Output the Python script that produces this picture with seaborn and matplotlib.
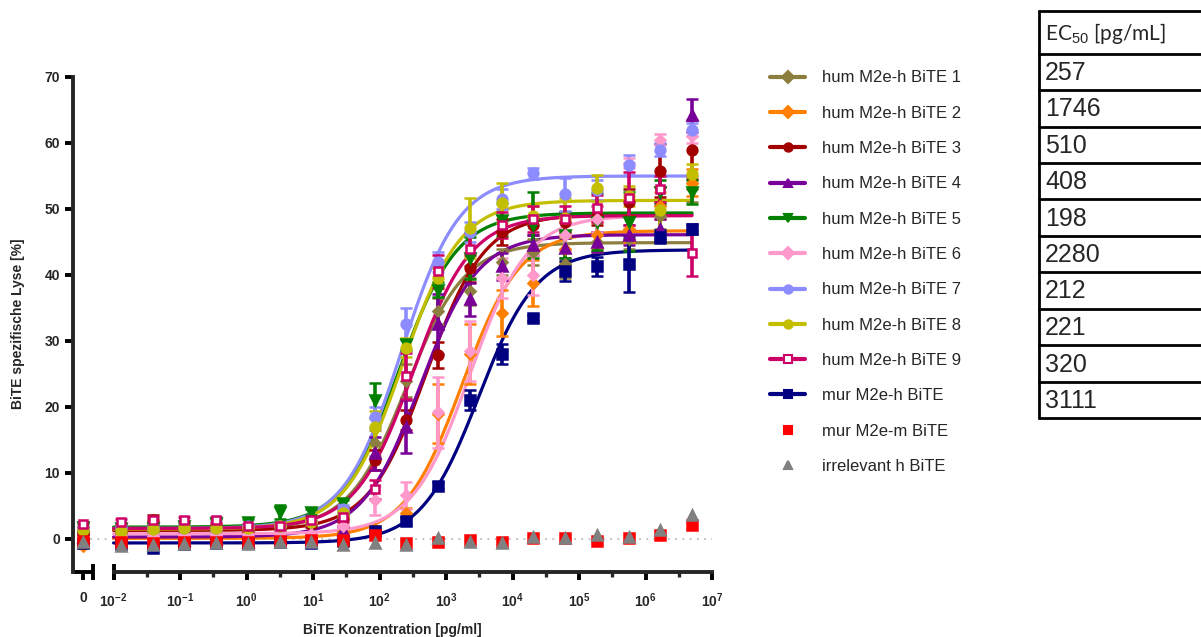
import numpy as np
import pandas as pd
import matplotlib
matplotlib.use("Agg")
import matplotlib.pyplot as plt
from matplotlib.lines import Line2D
from matplotlib.ticker import FixedLocator
import seaborn as sns

# =========================
# DATA
# =========================

labels = ["hum M2e-h BiTE 1", "hum M2e-h BiTE 2", "hum M2e-h BiTE 3",
          "hum M2e-h BiTE 4", "hum M2e-h BiTE 5", "hum M2e-h BiTE 6",
          "hum M2e-h BiTE 7", "hum M2e-h BiTE 8", "hum M2e-h BiTE 9",
          "mur M2e-h BiTE", "mur M2e-m BiTE", "irrelevant h BiTE"]

colors = ["#8C7E3E", "#FF7F00", "#A30000", "#780099", "#008000", "#FF99CC",
          "#8C8CFF", "#C4BE00", "#CC0066", "#000080", "#FF0000", "#808080"]
markers = ["D", "D", "o", "^", "v", "D", "o", "o", "s", "s", "s", "^"]

# concentration in pg/ml (first value = no BiTE)
conc = [0, 0.0129, 0.0387, 0.116, 0.348, 1.05, 3.14, 9.41, 28.2, 84.7, 254,
        762, 2290, 6860, 20600, 61700, 185000, 556000, 1670000, 5000000]

lysis_1 = [1.2, 1.3, 1.2, 1.3, 1.4, 1.3, 1.5, 2.4, 3.6, 14.5, 24.0, 34.5, 37.5, 42.0, 43.5, 41.6, 45.0, 45.5, 49.0, 53.0]
lysis_2 = [-1.0, -0.4, -0.3, -0.2, -0.2, -0.1, 0.0, -0.1, 1.0, 1.5, 3.9, 19.0, 28.0, 34.3, 38.8, 44.0, 46.0, 47.0, 50.5, 54.0]
lysis_3 = [1.0, 1.2, 2.9, 1.5, 2.0, 1.4, 1.6, 2.2, 3.0, 12.0, 18.0, 27.9, 41.0, 46.5, 47.5, 48.0, 49.0, 51.0, 55.8, 59.0]
lysis_4 = [0.3, 0.2, 0.1, -0.1, 0.0, -0.5, 0.2, 0.5, 1.4, 13.0, 17.0, 32.6, 36.3, 41.3, 44.5, 44.1, 45.0, 46.0, 47.0, 64.2]
lysis_5 = [1.8, 1.6, 1.6, 1.9, 2.4, 2.5, 4.1, 4.1, 5.4, 21.0, 29.5, 37.8, 42.6, 48.4, 47.6, 46.1, 48.1, 48.1, 52.6, 52.6]
lysis_6 = [1.5, 0.5, 0.5, 0.6, 0.6, 0.7, 1.1, 0.75, 1.9, 5.9, 6.6, 19.2, 28.5, 39.5, 40.0, 46.0, 48.5, 57.0, 60.5, 61.0]
lysis_7 = [1.5, 1.7, 1.7, 1.7, 1.7, 2.0, 1.9, 2.5, 4.6, 18.5, 32.6, 42.0, 46.5, 51.5, 55.4, 52.2, 52.9, 56.7, 59.0, 62.0]
lysis_8 = [1.4, 1.2, 1.5, 1.6, 1.6, 1.7, 1.9, 2.5, 3.9, 16.9, 29.0, 39.6, 47.1, 50.9, 49.0, 48.7, 53.2, 52.0, 49.9, 55.3]
lysis_9 = [2.2, 2.6, 2.9, 2.9, 2.9, 2.0, 2.0, 2.9, 3.4, 7.5, 24.7, 40.6, 43.9, 47.6, 48.5, 48.5, 50.1, 51.6, 53.0, 43.3]
lysis_10 = [-0.6, -0.8, -1.3, -0.8, -0.6, -0.6, -0.5, -0.6, -0.3, 1.2, 2.8, 8.1, 21.0, 28.0, 33.5, 40.6, 41.3, 41.6, 45.8, 47.0]
lysis_11 = [-0.3, -0.5, -0.6, -0.5, -0.4, -0.5, -0.3, -0.1, -0.1, 0.6, -0.6, -0.4, -0.15, -0.4, 0.15, 0.15, -0.25, 0.15, 0.6, 2.1]
lysis_12 = [-0.5, -1.0, -0.9, -0.8, -0.6, -0.7, -0.5, -0.5, -0.9, -0.65, -0.9, 0.1, -0.4, -0.6, 0.3, 0.15, 0.6, 0.35, 1.4, 3.6]

sem_1 = [0.4, 0.4, 0.3, 0.3, 0.3, 0.3, 0.4, 0.4, 0.5, 2.0, 2.5, 2.0, 2.0, 2.0, 2.0, 2.0, 1.5, 1.5, 2.0, 2.0]
sem_2 = [0.3, 0.3, 0.3, 0.3, 0.3, 0.3, 0.3, 0.3, 0.4, 0.5, 0.8, 4.5, 4.5, 3.5, 3.5, 2.0, 2.0, 2.0, 2.0, 2.0]
sem_3 = [0.3, 0.3, 0.8, 0.3, 0.3, 0.3, 0.3, 0.4, 0.5, 1.5, 1.5, 2.0, 2.0, 2.0, 1.5, 1.5, 1.5, 2.0, 4.0, 4.5]
sem_4 = [0.4, 0.3, 0.3, 0.3, 0.3, 0.3, 0.3, 0.3, 0.4, 2.5, 4.0, 4.5, 2.5, 2.0, 1.5, 1.5, 1.5, 1.5, 1.5, 2.5]
sem_5 = [0.4, 0.3, 0.3, 0.4, 0.6, 0.5, 1.0, 0.5, 0.5, 2.7, 0.8, 1.2, 3.2, 2.5, 5.0, 3.5, 4.3, 4.5, 1.8, 1.8]
sem_6 = [0.3, 0.3, 0.3, 0.3, 0.3, 0.3, 0.3, 0.3, 0.4, 2.2, 2.0, 5.4, 4.5, 3.0, 3.0, 2.0, 2.0, 0.8, 0.8, 1.0]
sem_7 = [0.3, 0.3, 0.3, 0.3, 0.3, 0.3, 0.3, 0.4, 0.5, 1.5, 2.4, 1.5, 1.5, 1.5, 0.8, 2.5, 1.5, 1.5, 1.0, 1.0]
sem_8 = [0.3, 0.3, 0.3, 0.3, 0.3, 0.3, 0.3, 0.4, 0.5, 2.5, 1.5, 1.5, 4.5, 3.0, 1.5, 3.0, 2.0, 1.5, 3.5, 1.5]
sem_9 = [0.4, 0.4, 0.4, 0.4, 0.4, 0.3, 0.3, 0.4, 1.5, 1.5, 3.5, 2.5, 2.5, 2.0, 2.0, 2.0, 2.0, 4.0, 2.0, 3.4]
sem_10 = [0.3, 0.3, 0.3, 0.3, 0.3, 0.3, 0.3, 0.3, 0.3, 0.3, 0.5, 0.6, 1.5, 1.5, 0.5, 1.5, 1.5, 4.2, 1.0, 0.8]

# fit parameters of the sigmoid curves (EC50 from the table)
ec50 = [257, 1746, 510, 408, 198, 2280, 212, 221, 320, 3111]
bottom = [1.4, 0.1, 1.3, 0.3, 1.8, 0.8, 1.6, 1.5, 1.6, -0.6]
top = [44.9, 46.7, 49.2, 46.1, 49.4, 49.0, 55.0, 51.3, 49.0, 43.8]
hill = [1.0, 1.0, 1.0, 1.0, 1.0, 1.0, 1.0, 1.0, 1.0, 1.0]

lysis = [lysis_1, lysis_2, lysis_3, lysis_4, lysis_5, lysis_6,
         lysis_7, lysis_8, lysis_9, lysis_10, lysis_11, lysis_12]
sems = [sem_1, sem_2, sem_3, sem_4, sem_5, sem_6, sem_7, sem_8, sem_9, sem_10, None, None]

# where the "0" concentration sits on the broken log axis
ZERO_POS = 10 ** -2.46
X_LEFT = 10 ** -2.61
BREAK_AT = 10 ** -2.31

# =========================
# BUILD TABLES
# =========================

points = []
for i, lab in enumerate(labels):
    for j, c in enumerate(conc):
        points.append({"series": lab, "conc": c if c > 0 else ZERO_POS,
                       "lysis": lysis[i][j],
                       "sem": sems[i][j] if sems[i] is not None else 0.0})
df_points = pd.DataFrame(points)

xfit = np.logspace(-2, np.log10(max(conc)), 300)
curves = []
for i in range(len(ec50)):
    yfit = bottom[i] + (top[i] - bottom[i]) / (1 + (ec50[i] / xfit) ** hill[i])
    curves.append(pd.DataFrame({"series": labels[i], "conc": xfit, "lysis": yfit}))
df_curves = pd.concat(curves, ignore_index=True)

# =========================
# PLOT
# =========================

sns.set_style("ticks")
plt.rcParams["font.family"] = ["Liberation Sans", "DejaVu Sans"]
plt.rcParams["mathtext.fontset"] = "custom"
plt.rcParams["mathtext.rm"] = "Liberation Sans"
plt.rcParams["mathtext.bf"] = "Liberation Sans:bold"

fig = plt.figure(figsize=(12.01, 6.37), dpi=100)
ax = fig.add_axes([73 / 1201, 65 / 637, (712 - 73) / 1201, (572 - 75) / 637])

# baseline
ax.hlines(0, ZERO_POS, 1e7, colors="#bbbbbb", linestyles=(0, (1, 3)), lw=1.3, zorder=1)

sns.lineplot(data=df_curves, x="conc", y="lysis", hue="series",
             palette=dict(zip(labels, colors)), lw=2.3, legend=False,
             sort=False, estimator=None, ax=ax, zorder=2)

for i, lab in enumerate(labels):
    d = df_points[df_points["series"] == lab]
    face = "white" if i == 8 else colors[i]
    ms = 5.5 if markers[i] == "D" else 7
    if i == 8:
        ms = 6
    ax.errorbar(d["conc"], d["lysis"], yerr=d["sem"] if sems[i] is not None else None,
                fmt=markers[i], color=colors[i], mfc=face, mec=colors[i], mew=1.8,
                ms=ms, elinewidth=2.6, capsize=4, capthick=2.6, zorder=3)

ax.set_xscale("log")
ax.set_xlim(X_LEFT, 1e7)
ax.set_ylim(-5, 70.3)

major = [ZERO_POS] + [10.0 ** k for k in range(-2, 8)]
ax.xaxis.set_major_locator(FixedLocator(major))
ax.set_xticklabels(["0"] + [r"$\mathbf{10^{%d}}$" % k for k in range(-2, 8)])
ax.xaxis.set_minor_locator(FixedLocator([10 ** (k + 0.5) for k in range(-2, 7)]))
ax.set_yticks(range(0, 80, 10))

for s in ["top", "right"]:
    ax.spines[s].set_visible(False)
for s in ["left", "bottom"]:
    ax.spines[s].set_linewidth(2.8)
ax.spines["left"].set_bounds(-5, 70)
ax.spines["bottom"].set_bounds(1e-2, 1e7)

# broken x axis: short piece for the zero point plus break marks
ax.plot([X_LEFT, BREAK_AT], [-5, -5], color="black", lw=2.8, clip_on=False,
        solid_capstyle="butt")
for xb in [BREAK_AT, 1e-2]:
    ax.plot([xb, xb], [-6.2, -3.8], color="black", lw=2.8, clip_on=False,
            solid_capstyle="butt")

ax.tick_params(axis="both", which="major", direction="out", length=6, width=2.8,
               labelsize=10, color="black")
ax.tick_params(axis="x", which="minor", direction="out", length=3.5, width=2.4)
ax.tick_params(axis="x", pad=8)
for t in ax.get_yticklabels() + ax.get_xticklabels():
    t.set_fontweight("bold")

ax.set_xlabel("BiTE Konzentration [pg/ml]", fontsize=10, fontweight="bold", labelpad=9)
ax.set_ylabel("BiTE spezifische Lyse [%]", fontsize=10, fontweight="bold", labelpad=14)

# legend
handles = []
for i, lab in enumerate(labels):
    ls = "-" if i < 10 else "none"
    face = "white" if i == 8 else colors[i]
    handles.append(Line2D([], [], color=colors[i], lw=3, ls=ls, marker=markers[i],
                          ms=6, mfc=face, mec=colors[i], mew=1.5))
fig.legend(handles, labels, loc="upper left", bbox_to_anchor=(762 / 1201, 1 - 62 / 637),
           frameon=False, fontsize=12, handlelength=2.1, handletextpad=1.0,
           labelspacing=1.22, borderpad=0)

# EC50 table
tab = fig.add_axes([0, 0, 1, 1])
tab.set_xlim(0, 1201)
tab.set_ylim(637, 0)
tab.axis("off")
row_lines = [11, 54, 90, 127, 163, 199, 236, 272, 309, 345, 382, 418]
tab.plot([1039, 1039], [row_lines[0], row_lines[-1]], color="black", lw=2)
for yl in row_lines:
    tab.plot([1039, 1201], [yl, yl], color="black", lw=2)
tab.text(1045, 34, r"EC$_{50}$ [pg/mL]", fontsize=15, va="center", ha="left",
         family=["Lato", "DejaVu Sans"])
for k, v in enumerate(ec50):
    tab.text(1045, (row_lines[k + 1] + row_lines[k + 2]) / 2 + 1, str(v), fontsize=18,
             va="center", ha="left")

plt.savefig("out.png", dpi=100)
